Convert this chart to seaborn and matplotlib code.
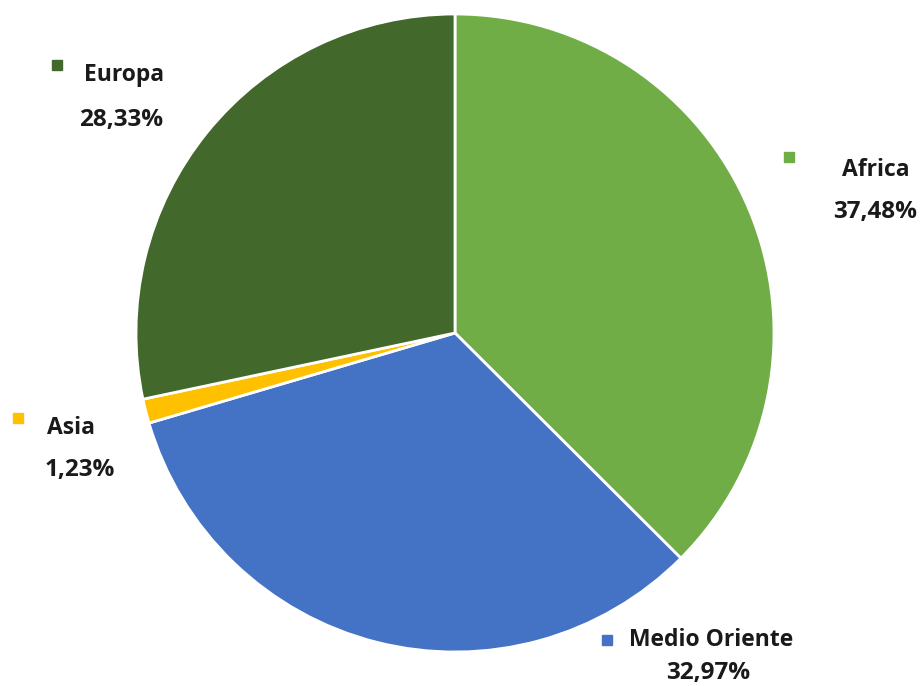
import matplotlib
matplotlib.use("Agg")
import matplotlib.pyplot as plt
import seaborn as sns

# Share of each region (percent), drawn clockwise from the top
regions = ["Africa", "Medio Oriente", "Asia", "Europa"]
shares = [37.48, 32.97, 1.23, 28.33]
colors = ["#70AD47", "#4472C4", "#FFC000", "#43682B"]

sns.set_theme(style="white")
plt.rcParams["font.family"] = ["Open Sans", "DejaVu Sans"]

W, H = 922, 686
fig = plt.figure(figsize=(W / 100, H / 100), dpi=100)
ax = fig.add_axes([0, 0, 1, 1])

# pie centre and radius in pixels
cx, cy, r = 455, 333, 319
ax.pie(shares, colors=colors, startangle=90, counterclock=False, radius=1,
       wedgeprops=dict(edgecolor="white", linewidth=2))
ax.set_xlim(-cx / r, (W - cx) / r)
ax.set_ylim(-(H - cy) / r, cy / r)
ax.set_aspect("equal")
ax.axis("off")

# label layout in pixels: marker square, name centre, percentage centre
layout = {
    "Africa": ((789, 157), (876, 170), (875, 212)),
    "Medio Oriente": ((607, 640), (711, 640), (708, 673)),
    "Asia": ((18, 418), (71, 428), (80, 470)),
    "Europa": ((57, 65), (124, 75), (121, 120)),
}

def fx(px):
    return px / W

def fy(py):
    return 1 - py / H

for name, val, col in zip(regions, shares, colors):
    (mx, my), (nx, ny), (vx, vy) = layout[name]
    fig.patches.append(plt.Rectangle((fx(mx - 5), fy(my + 5)), 10 / W, 10 / H,
                                     transform=fig.transFigure, color=col,
                                     zorder=3))
    fig.text(fx(nx), fy(ny), name, ha="center", va="center", fontsize=16.5,
             fontweight="bold", color="#1a1a1a")
    fig.text(fx(vx), fy(vy), f"{val:.2f}%".replace(".", ","), ha="center",
             va="center", fontsize=17.5, fontweight="bold", color="#1a1a1a")

fig.savefig("out.png", dpi=100, facecolor="white")
